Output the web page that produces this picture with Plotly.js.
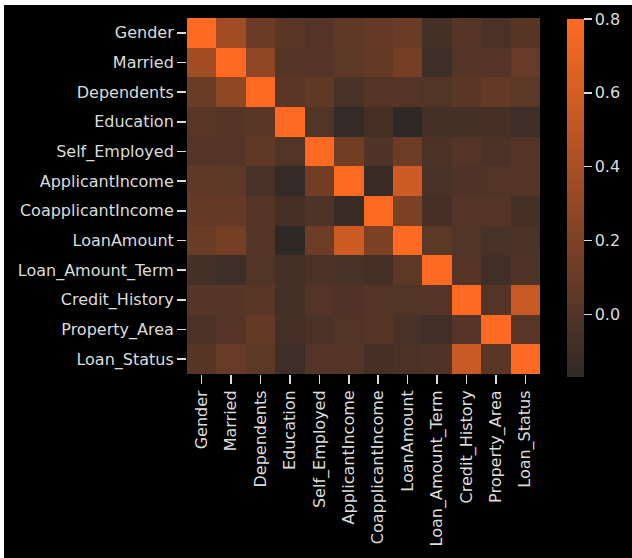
<!DOCTYPE html>
<html>
<head>
<meta charset="utf-8">
<script src="https://cdn.plot.ly/plotly-3.0.1.min.js"></script>
<style>
  html, body { margin: 0; padding: 0; background: #ffffff; width: 632px; height: 558px; overflow: hidden; }
  #chart { position: absolute; left: 4px; top: 5px; width: 628px; height: 553px; background: #000; }
</style>
</head>
<body>
<div id="chart"></div>
<script>
const labels = ["Gender", "Married", "Dependents", "Education", "Self_Employed", "ApplicantIncome",
  "CoapplicantIncome", "LoanAmount", "Loan_Amount_Term", "Credit_History", "Property_Area", "Loan_Status"];

const rowGender        = [1.00, 0.36, 0.11, 0.03, 0.00, 0.06, 0.08, 0.11, -0.07, 0.01, -0.03, 0.02];
const rowMarried       = [0.36, 1.00, 0.28, 0.01, 0.00, 0.05, 0.08, 0.16, -0.10, 0.01, 0.00, 0.09];
const rowDependents    = [0.11, 0.28, 1.00, 0.03, 0.06, -0.05, 0.00, 0.01, -0.01, 0.03, 0.08, 0.04];
const rowEducation     = [0.03, 0.01, 0.03, 1.00, -0.01, -0.14, -0.06, -0.17, -0.07, -0.07, -0.06, -0.09];
const rowSelfEmployed  = [0.00, 0.00, 0.06, -0.01, 1.00, 0.14, -0.02, 0.12, -0.03, 0.00, -0.03, 0.00];
const rowApplicantInc  = [0.06, 0.05, -0.05, -0.14, 0.14, 1.00, -0.12, 0.57, -0.05, -0.02, -0.01, 0.00];
const rowCoapplicantInc= [0.08, 0.08, 0.00, -0.06, -0.02, -0.12, 1.00, 0.19, -0.06, 0.00, 0.01, -0.06];
const rowLoanAmount    = [0.11, 0.16, 0.01, -0.17, 0.12, 0.57, 0.19, 1.00, 0.04, -0.01, -0.05, -0.03];
const rowLoanTerm      = [-0.07, -0.10, -0.01, -0.07, -0.03, -0.05, -0.06, 0.04, 1.00, 0.00, -0.08, -0.02];
const rowCreditHistory = [0.01, 0.01, 0.03, -0.07, 0.00, -0.02, 0.00, -0.01, 0.00, 1.00, 0.00, 0.54];
const rowPropertyArea  = [-0.03, 0.00, 0.08, -0.06, -0.03, -0.01, 0.01, -0.05, -0.08, 0.00, 1.00, 0.03];
const rowLoanStatus    = [0.02, 0.09, 0.04, -0.09, 0.00, 0.00, -0.06, -0.03, -0.02, 0.54, 0.03, 1.00];

const z = [rowGender, rowMarried, rowDependents, rowEducation, rowSelfEmployed, rowApplicantInc,
  rowCoapplicantInc, rowLoanAmount, rowLoanTerm, rowCreditHistory, rowPropertyArea, rowLoanStatus];

const cbTicks = [0.8, 0.6, 0.4, 0.2, 0.0];

const textColor = '#dcdcdc';
const fontFam = 'DejaVu Sans, sans-serif';

const W = 628, H = 553;
const L = 183, R = 86, T = 13, B = 184;
const plotH = H - T - B;
const plotW = W - L - R;

const trace = {
  type: 'heatmap',
  z: z, x: labels, y: labels,
  zmin: -0.17, zmax: 0.8,
  colorscale: [[0, '#2e2927'], [1, '#ff6a22']],
  hoverinfo: 'x+y+z',
  colorbar: {
    thickness: 17,
    len: 358, lenmode: 'pixels',
    x: (569 - L) / plotW, xanchor: 'left', xpad: 0,
    y: (H - B - 14) / plotH, yanchor: 'top', ypad: 0,
    outlinewidth: 0,
    tickvals: cbTicks, tickformat: '.1f',
    ticks: 'outside', ticklen: 8, tickwidth: 1.5, tickcolor: textColor,
    tickfont: {family: fontFam, size: 16, color: textColor}
  }
};

const layout = {
  width: W, height: H,
  margin: {l: L, r: R, t: T, b: B, pad: 0},
  paper_bgcolor: '#000000', plot_bgcolor: '#000000',
  xaxis: {
    type: 'category', tickangle: -90,
    ticks: 'outside', ticklen: 9, tickwidth: 1.5, tickcolor: textColor,
    tickfont: {family: fontFam, size: 16, color: textColor},
    showgrid: false, zeroline: false, showline: false
  },
  yaxis: {
    type: 'category', autorange: 'reversed',
    ticks: 'outside', ticklen: 9, tickwidth: 1.5, tickcolor: textColor,
    tickfont: {family: fontFam, size: 16, color: textColor},
    showgrid: false, zeroline: false, showline: false
  }
};

Plotly.newPlot('chart', [trace], layout, {displayModeBar: false, staticPlot: true});
</script>
</body>
</html>
